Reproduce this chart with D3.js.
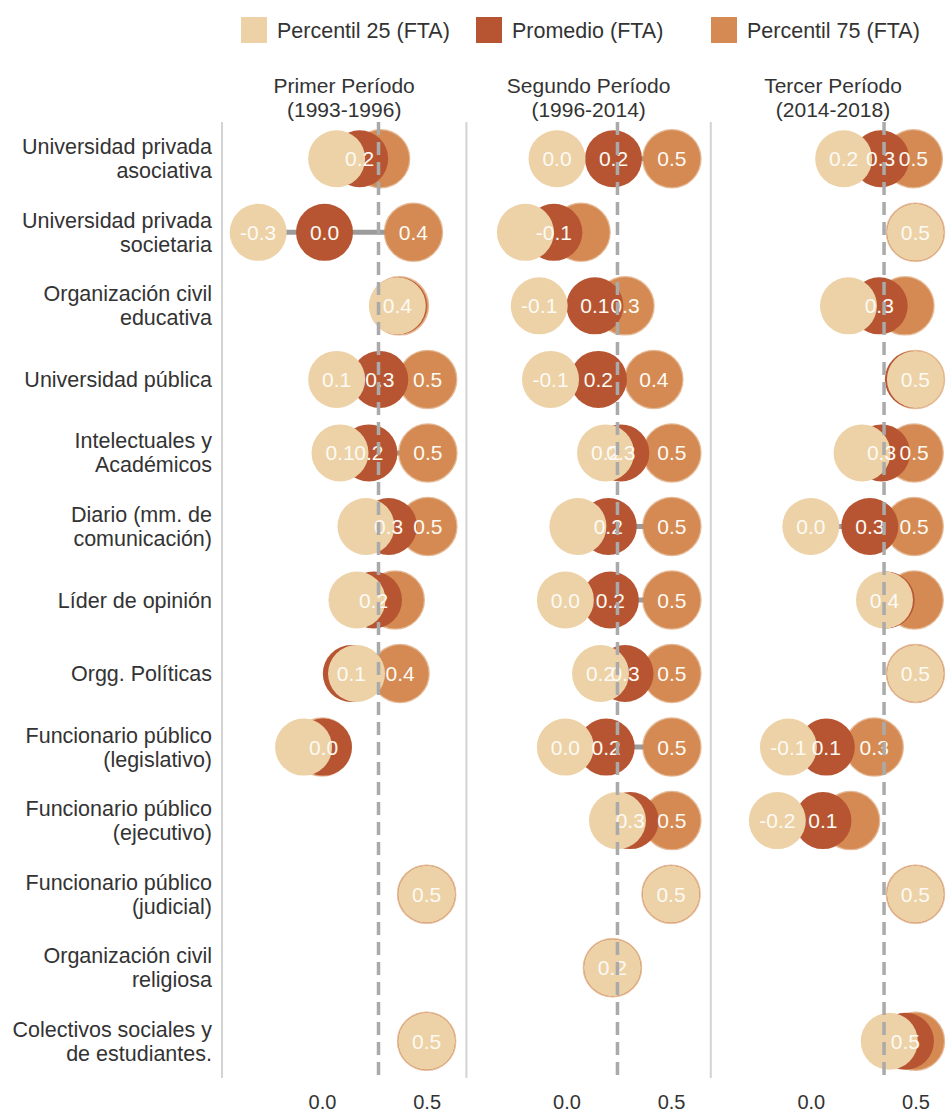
<!DOCTYPE html>
<html>
<head>
<meta charset="utf-8">
<script src="https://cdn.jsdelivr.net/npm/d3@7"></script>
<style>
  body { margin: 0; background: #fff; }
  text { font-family: "Liberation Sans", Arial, sans-serif; }
</style>
</head>
<body>
<svg id="chart" width="947" height="1112"></svg>
<script>
// Categories (rows), top to bottom
const categories = [
  "Universidad privada\nasociativa",
  "Universidad privada\nsocietaria",
  "Organización civil\neducativa",
  "Universidad pública",
  "Intelectuales y\nAcadémicos",
  "Diario (mm. de\ncomunicación)",
  "Líder de opinión",
  "Orgg. Políticas",
  "Funcionario público\n(legislativo)",
  "Funcionario público\n(ejecutivo)",
  "Funcionario público\n(judicial)",
  "Organización civil\nreligiosa",
  "Colectivos sociales y\nde estudiantes."
];

const periods = ["Primer Período\n(1993-1996)", "Segundo Período\n(1996-2014)", "Tercer Período\n(2014-2018)"];
const series = ["Percentil 25 (FTA)", "Promedio (FTA)", "Percentil 75 (FTA)"];

// Period 1
const p25_1  = [0.07, -0.305, 0.36, 0.07, 0.086, 0.21, 0.167, 0.165, -0.088, null, 0.5, null, 0.5];
const mean_1 = [0.18, 0.012, 0.365, 0.276, 0.224, 0.318, 0.246, 0.14, 0.007, null, 0.5, null, 0.5];
const p75_1  = [0.28, 0.437, 0.37, 0.505, 0.506, 0.506, 0.35, 0.373, 0.0, null, 0.5, null, 0.5];
// Period 2
const p25_2  = [-0.045, -0.196, -0.13, -0.076, 0.187, 0.055, -0.005, 0.163, -0.005, 0.244, 0.5, 0.22, null];
const mean_2 = [0.225, -0.06, 0.136, 0.153, 0.26, 0.2, 0.21, 0.28, 0.19, 0.305, 0.5, 0.22, null];
const p75_2  = [0.504, 0.07, 0.28, 0.418, 0.504, 0.504, 0.504, 0.504, 0.504, 0.504, 0.5, 0.22, null];
// Period 3
const p25_3  = [0.157, 0.5, 0.18, 0.5, 0.245, 0.0, 0.352, 0.5, -0.107, -0.16, 0.5, null, 0.375];
const mean_3 = [0.334, 0.5, 0.327, 0.49, 0.338, 0.282, 0.36, 0.5, 0.074, 0.058, 0.5, null, 0.452];
const p75_3  = [0.49, 0.5, 0.45, 0.5, 0.494, 0.494, 0.494, 0.5, 0.303, 0.19, 0.5, null, 0.5];

// which value labels are shown (P25, Promedio, P75)
const show_1 = ["010","111","100","111","111","011","010","011","010","000","100","000","100"];
const show_2 = ["111","010","111","111","111","011","111","111","111","011","100","100","000"];
const show_3 = ["111","100","010","100","011","111","100","100","111","110","100","000","010"];

// reference (dashed) line per period
const refLines = [0.27, 0.244, 0.35];
const xTicks = [0.0, 0.5];

const panels = [
  { title: periods[0], vals: [p25_1, mean_1, p75_1], show: show_1, ref: refLines[0] },
  { title: periods[1], vals: [p25_2, mean_2, p75_2], show: show_2, ref: refLines[1] },
  { title: periods[2], vals: [p25_3, mean_3, p75_3], show: show_3, ref: refLines[2] }
];

const plotTop = 122, plotBottom = 1078, plotLeft = 222;
const panelWidth = 244.4;
const radius = 28.5;
const colors = ["#ecd2a6", "#b75532", "#d48a52"];
const textColor = "#333";

const svg = d3.select("#chart");

const y = d3.scaleBand().domain(categories).range([plotTop, plotBottom]);
const x = d3.scaleLinear().domain([-0.478, 0.69]).range([0, panelWidth]);

const locale = d3.formatLocale({ decimal: ".", thousands: ",", grouping: [3], currency: ["", ""], minus: "-" });
const f1 = locale.format(".1f");
const fmt = v => { const s = f1(v); return s === "-0.0" ? "0.0" : s; };

// Legend
const legend = svg.append("g").attr("transform", "translate(241, 17)");
series.forEach((s, i) => {
  const item = legend.append("g").attr("transform", `translate(${i * 235}, 0)`);
  item.append("rect").attr("width", 26).attr("height", 26).attr("fill", colors[i]);
  item.append("text")
    .attr("x", 36).attr("y", 21)
    .style("font-size", "21.5px").style("fill", textColor)
    .text(s);
});

// Row labels
const rowLabels = svg.append("g");
categories.forEach(c => {
  const lines = c.split("\n");
  const cy = y(c) + y.bandwidth() / 2;
  lines.forEach((ln, k) => {
    rowLabels.append("text")
      .attr("x", 212)
      .attr("y", cy + 7.5 + (k - (lines.length - 1) / 2) * 24)
      .attr("text-anchor", "end")
      .style("font-size", "21.5px").style("fill", textColor)
      .text(ln);
  });
});

panels.forEach((p, pi) => {
  const g = svg.append("g").attr("transform", `translate(${plotLeft + pi * panelWidth}, 0)`);

  // Panel separator
  g.append("line")
    .attr("x1", 0).attr("x2", 0)
    .attr("y1", plotTop).attr("y2", plotBottom)
    .attr("stroke", "#d3d3d3").attr("stroke-width", 2);

  // Title
  p.title.split("\n").forEach((ln, k) => {
    g.append("text")
      .attr("x", panelWidth / 2).attr("y", 93 + k * 24)
      .attr("text-anchor", "middle")
      .style("font-size", "21px").style("fill", textColor)
      .text(ln);
  });

  const rows = categories.map((c, i) => ({
    cat: c,
    vals: p.vals.map(arr => arr[i]),
    show: p.show[i]
  }));
  const rowsWithData = rows.filter(r => r.vals.some(v => v !== null));

  // Connecting range lines
  g.selectAll(".range")
    .data(rowsWithData)
    .enter()
    .append("line")
    .attr("x1", d => x(d3.min(d.vals)))
    .attr("x2", d => x(d3.max(d.vals)))
    .attr("y1", d => y(d.cat) + y.bandwidth() / 2)
    .attr("y2", d => y(d.cat) + y.bandwidth() / 2)
    .attr("stroke", "#9b9b9b").attr("stroke-width", 5);

  // Circles: P75 first, then Promedio, then P25 on top
  [2, 1, 0].forEach(si => {
    g.selectAll(".c" + si)
      .data(rowsWithData.filter(r => r.vals[si] !== null))
      .enter()
      .append("circle")
      .attr("cx", d => x(d.vals[si]))
      .attr("cy", d => y(d.cat) + y.bandwidth() / 2)
      .attr("r", radius)
      .attr("fill", colors[si])
      .attr("stroke", si === 2 ? colors[2] : "none")
      .attr("stroke-opacity", 0.6)
      .attr("stroke-width", 2.5);
  });

  // Value labels
  [2, 1, 0].forEach(si => {
    g.selectAll(".l" + si)
      .data(rowsWithData.filter(r => r.vals[si] !== null && r.show[si] === "1"))
      .enter()
      .append("text")
      .attr("x", d => x(d.vals[si]))
      .attr("y", d => y(d.cat) + y.bandwidth() / 2)
      .attr("dy", "0.36em")
      .attr("text-anchor", "middle")
      .style("font-size", "21px")
      .style("fill", "#fdfaf4")
      .text(d => fmt(d.vals[si]));
  });

  // Reference dashed line
  g.append("line")
    .attr("x1", x(p.ref)).attr("x2", x(p.ref))
    .attr("y1", plotTop).attr("y2", plotBottom)
    .attr("stroke", "#aaaaaa").attr("stroke-width", 3.5)
    .attr("stroke-dasharray", "13,7");

  // X axis
  const axis = g.append("g")
    .attr("transform", `translate(0, ${plotBottom})`)
    .call(d3.axisBottom(x).tickValues(xTicks).tickFormat(fmt).tickSize(0).tickPadding(17));
  axis.select(".domain").remove();
  axis.selectAll("text")
    .style("font-size", "20px")
    .style("font-family", "'Liberation Sans', Arial, sans-serif")
    .style("fill", textColor);
});
</script>
</body>
</html>
